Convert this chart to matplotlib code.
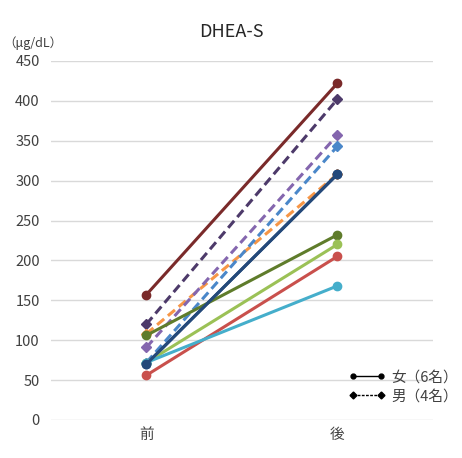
from matplotlib import pyplot as plt
from matplotlib.lines import Line2D

plt.rcParams['font.family'] = ['Noto Sans CJK JP', 'DejaVu Sans']

# Data.
categories = ['前', '後']

# Women (solid, circle markers)
women_before = [157, 70, 106, 72, 56, 72]
women_after  = [422, 308, 232, 220, 205, 168]
women_colors = ['#7A2A2A', '#24497A', '#5F7C2B', '#9BC156', '#C9504C', '#45AECB']

# Men (dashed, diamond markers)
men_before = [120, 108, 91, 72]
men_after  = [402, 308, 357, 343]
men_colors = ['#4D3A6A', '#F79646', '#8466AE', '#4A87C9']

fig = plt.figure(figsize=(4.62, 4.58), dpi=100)
ax = fig.add_axes([0.110, 0.083, 0.827, 0.784])

x = range(len(categories))
for b, a, c in zip(men_before, men_after, men_colors):
  ax.plot(x, [b, a], color=c, lw=2.2, ls=(0, (3, 1.6)), marker='D', ms=5,
          zorder=3)
for b, a, c in zip(women_before, women_after, women_colors):
  ax.plot(x, [b, a], color=c, lw=2.2, marker='o', ms=6, zorder=4)
# navy line drawn over the orange end point
ax.plot(x, [women_before[1], women_after[1]], color=women_colors[1], lw=2.2,
        marker='o', ms=6, zorder=5)

ax.set_xlim(-0.5, 1.5)
ax.set_ylim(0, 450)
ax.set_yticks(range(0, 451, 50))
ax.set_xticks(list(x))
ax.set_xticklabels(categories)
ax.grid(axis='y', color='#D9D9D9', lw=1)
ax.set_axisbelow(True)
for s in ax.spines.values():
  s.set_visible(False)
ax.tick_params(length=0, labelsize=10.5, colors='#404040', pad=8)
ax.tick_params(axis='x', pad=6)

fig.text(0.5, 0.93, 'DHEA-S', ha='center', va='center', fontsize=13,
         color='#262626')
fig.text(0.008, 0.905, '（μg/dL）', ha='left', va='center', fontsize=9,
         color='#404040')

handles = [Line2D([], [], color='black', lw=1, marker='o', ms=3.5),
           Line2D([], [], color='black', lw=1, ls=(0, (2, 1)), marker='D', ms=3.5)]
leg = ax.legend(handles, ['女（6名）', '男（4名）'], numpoints=2, frameon=False,
                loc='lower right', bbox_to_anchor=(1.10, 0.01), fontsize=10.5,
                handlelength=2.5, handletextpad=0.4, labelspacing=0.35)
for t in leg.get_texts():
  t.set_color('#404040')

fig.savefig('out.png', dpi=100)
